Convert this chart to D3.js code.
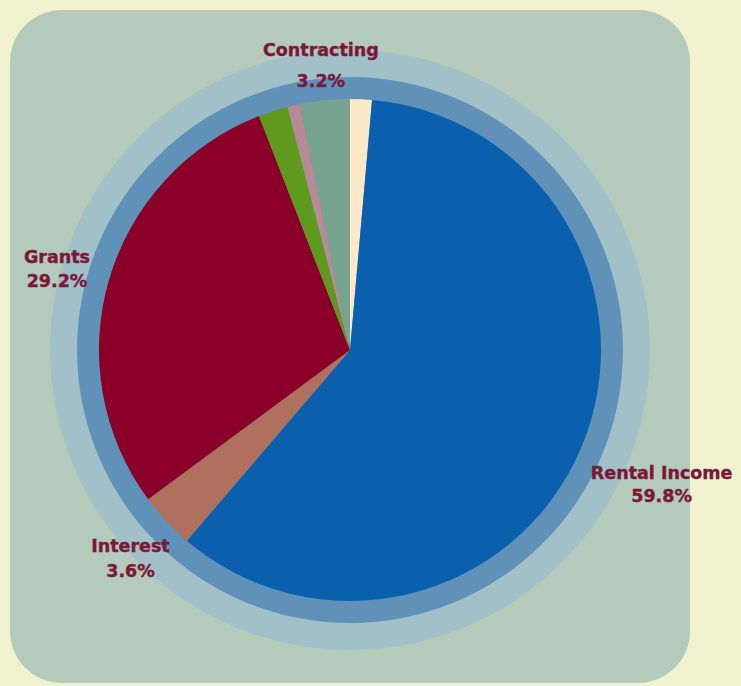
<html>
	<head>
		<meta content="text/html;charset=utf-8" http-equiv="Content-Type">
		<script src="https://d3js.org/d3.v7.min.js"></script>
		<style>
		body { margin:0; background:#f1f2cf; }
		</style>
	</head>
	<body>
		<div>
			<svg id="chart"></svg>
		</div>
		<script>

	// slices, clockwise from 12 o'clock
	var categories = ["Other", "Rental Income", "Interest", "Grants", "Donations", "Fees", "Contracting"];
	var shares = [1.4, 59.8, 3.6, 29.2, 1.9, 0.8, 3.2];
	var sliceColors = ["#fde8c8", "#0a60ad", "#b0705e", "#8a0028", "#5f9a1e", "#b78a98", "#76a48e"];
	var labelled = ["Rental Income", "Interest", "Grants", "Contracting"];

	// label placement (distance from centre, gap between the two lines)
	var labelPos = {
		"Rental Income": { r: 338, gap: 23 },
		"Interest": { r: 300, gap: 25 },
		"Grants": { r: 305, gap: 24 },
		"Contracting": { r: 290, gap: 31 }
	};

	page();

	function page(){
		var width = 741, height = 686;
		var cx = 350, cy = 350, radius = 251;
		var svg = d3.select("#chart").attr("width", width).attr("height", height);

		svg.append("rect")
			.attr("x", 10).attr("y", 10)
			.attr("width", 680).attr("height", 673)
			.attr("rx", 52).attr("ry", 52)
			.style("fill", "#b4cbbb");

		var g = svg.append("g").attr("transform", "translate(" + cx + "," + cy + ")");

		// rings behind the pie
		g.append("circle").attr("r", 300).style("fill", "#a2c0c8");
		g.append("circle").attr("r", 273).style("fill", "#6091b8");

		var rows = categories.map(function(c, i){ return { name: c, value: shares[i], color: sliceColors[i] }; });

		var pie = d3.pie().sort(null).value(function(d){ return d.value; });
		var arc = d3.arc().innerRadius(0).outerRadius(radius);
		var arcs = pie(rows);

		g.selectAll("path.slice")
			.data(arcs)
			.enter().append("path")
			.attr("class", "slice")
			.attr("d", arc)
			.style("fill", function(d){ return d.data.color; });

		var labels = g.selectAll("g.lbl")
			.data(arcs.filter(function(d){ return labelled.indexOf(d.data.name) >= 0; }))
			.enter().append("g")
			.attr("class", "lbl")
			.attr("transform", function(d){
				var p = labelPos[d.data.name];
				var c = d3.arc().innerRadius(p.r).outerRadius(p.r).centroid(d);
				return "translate(" + c[0] + "," + (c[1] - p.gap / 2 + 10) + ")";
			});

		function styleText(sel){
			sel.attr("text-anchor", "middle")
				.style("font-family", "'DejaVu Sans', sans-serif")
				.style("font-weight", "bold")
				.style("font-size", "17.5px")
				.style("fill", "#7b1838")
				.style("stroke", "#7b1838")
				.style("stroke-width", 0.4);
		}

		labels.append("text")
			.call(styleText)
			.text(function(d){ return d.data.name; });

		labels.append("text")
			.call(styleText)
			.attr("y", function(d){ return labelPos[d.data.name].gap; })
			.text(function(d){ return d.data.value.toFixed(1) + "%"; });
	}

		</script>
	</body>
</html>
